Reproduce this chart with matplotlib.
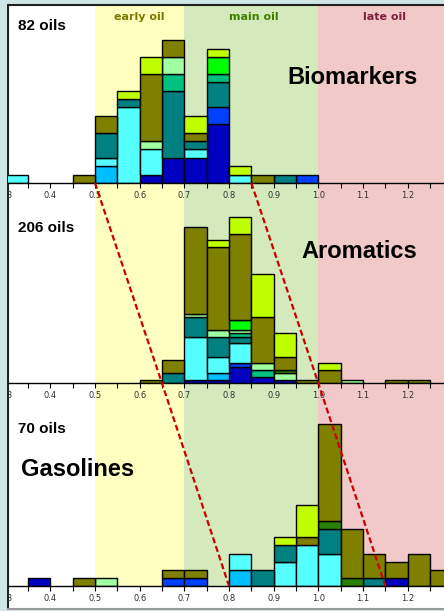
import numpy as np
import matplotlib
matplotlib.use("Agg")
import matplotlib.pyplot as plt
from matplotlib.lines import Line2D
from matplotlib.patches import Rectangle

# ---- histogram data: counts per 0.05 bin of the maturity ratio ----
BIN_LEFT = [0.30, 0.35, 0.40, 0.45, 0.50, 0.55, 0.60, 0.65, 0.70, 0.75, 0.80,
            0.85, 0.90, 0.95, 1.00, 1.05, 1.10, 1.15, 1.20, 1.25, 1.30]
BIN_WIDTH = 0.05

# oil families, stacked bottom -> top
FAMILIES = ["navy", "blue", "sky", "cyan", "teal", "spring",
            "pale", "green", "dkgreen", "olive", "lime"]
FAMILY_COLORS = {
    "navy": "#0000c0", "blue": "#0040ff", "sky": "#00bfff", "cyan": "#55ffff",
    "teal": "#008080", "spring": "#00c080", "pale": "#a0ffa0", "green": "#00ff00",
    "dkgreen": "#2a8000", "olive": "#808000", "lime": "#c0ff00",
}

BIOMARKERS = {
    "navy":   [0, 0, 0, 0, 0, 0, 1, 3, 3, 7, 0, 0, 0, 0, 0, 0, 0, 0, 0, 0, 0],
    "blue":   [0, 0, 0, 0, 0, 0, 0, 0, 0, 2, 0, 0, 0, 1, 0, 0, 0, 0, 0, 0, 0],
    "sky":    [0, 0, 0, 0, 2, 0, 0, 0, 0, 0, 0, 0, 0, 0, 0, 0, 0, 0, 0, 0, 0],
    "cyan":   [1, 0, 0, 0, 1, 9, 3, 0, 1, 0, 1, 0, 0, 0, 0, 0, 0, 0, 0, 0, 0],
    "teal":   [0, 0, 0, 0, 3, 1, 0, 8, 1, 3, 0, 0, 1, 0, 0, 0, 0, 0, 0, 0, 0],
    "spring": [0, 0, 0, 0, 0, 0, 0, 2, 0, 1, 0, 0, 0, 0, 0, 0, 0, 0, 0, 0, 0],
    "pale":   [0, 0, 0, 0, 0, 0, 1, 2, 0, 0, 0, 0, 0, 0, 0, 0, 0, 0, 0, 0, 0],
    "green":  [0, 0, 0, 0, 0, 0, 0, 0, 0, 2, 0, 0, 0, 0, 0, 0, 0, 0, 0, 0, 0],
    "dkgreen": [0] * 21,
    "olive":  [0, 0, 0, 1, 2, 0, 8, 2, 1, 0, 0, 1, 0, 0, 0, 0, 0, 0, 0, 0, 0],
    "lime":   [0, 0, 0, 0, 0, 1, 2, 0, 2, 1, 1, 0, 0, 0, 0, 0, 0, 0, 0, 0, 0],
}

AROMATICS = {
    "navy":   [0, 0, 0, 0, 0, 0, 0, 0, 1, 1, 5, 2, 1, 0, 0, 0, 0, 0, 0, 0, 0],
    "blue":   [0, 0, 0, 0, 0, 0, 0, 0, 0, 0, 1, 0, 0, 0, 0, 0, 0, 0, 0, 0, 0],
    "sky":    [0, 0, 0, 0, 0, 0, 0, 0, 0, 2, 0, 0, 0, 0, 0, 0, 0, 0, 0, 0, 0],
    "cyan":   [0, 0, 0, 0, 0, 0, 0, 0, 13, 5, 6, 0, 0, 0, 0, 0, 0, 0, 0, 0, 0],
    "teal":   [0, 0, 0, 0, 0, 0, 0, 3, 6, 6, 2, 0, 0, 0, 0, 0, 0, 0, 0, 0, 0],
    "spring": [0, 0, 0, 0, 0, 0, 0, 0, 0, 0, 1, 2, 0, 0, 0, 0, 0, 0, 0, 0, 0],
    "pale":   [0, 0, 0, 0, 0, 0, 0, 0, 1, 2, 1, 2, 2, 0, 0, 1, 0, 0, 0, 0, 0],
    "green":  [0, 0, 0, 0, 0, 0, 0, 0, 0, 0, 3, 0, 0, 0, 0, 0, 0, 0, 0, 0, 0],
    "dkgreen": [0, 0, 0, 0, 0, 0, 0, 0, 0, 0, 0, 0, 1, 0, 0, 0, 0, 0, 0, 0, 0],
    "olive":  [0, 0, 0, 0, 0, 0, 1, 4, 26, 25, 26, 14, 4, 1, 4, 0, 0, 1, 1, 0, 0],
    "lime":   [0, 0, 0, 0, 0, 0, 0, 0, 0, 2, 5, 13, 7, 0, 2, 0, 0, 0, 0, 0, 0],
}

GASOLINES = {
    "navy":   [0, 1, 0, 0, 0, 0, 0, 0, 0, 0, 0, 0, 0, 0, 0, 0, 0, 1, 0, 0, 0],
    "blue":   [0, 0, 0, 0, 0, 0, 0, 1, 1, 0, 0, 0, 0, 0, 0, 0, 0, 0, 0, 0, 0],
    "sky":    [0, 0, 0, 0, 0, 0, 0, 0, 0, 0, 2, 0, 0, 0, 0, 0, 0, 0, 0, 0, 0],
    "cyan":   [0, 0, 0, 0, 0, 0, 0, 0, 0, 0, 2, 0, 3, 5, 4, 0, 0, 0, 0, 0, 0],
    "teal":   [0, 0, 0, 0, 0, 0, 0, 0, 0, 0, 0, 2, 2, 0, 3, 0, 1, 0, 0, 0, 0],
    "spring": [0] * 21,
    "pale":   [0, 0, 0, 0, 1, 0, 0, 0, 0, 0, 0, 0, 0, 0, 0, 0, 0, 0, 0, 0, 0],
    "green":  [0] * 21,
    "dkgreen": [0, 0, 0, 0, 0, 0, 0, 0, 0, 0, 0, 0, 0, 0, 1, 1, 0, 0, 0, 0, 0],
    "olive":  [0, 0, 0, 1, 0, 0, 0, 1, 1, 0, 0, 0, 0, 1, 12, 6, 3, 2, 4, 2, 1],
    "lime":   [0, 0, 0, 0, 0, 0, 0, 0, 0, 0, 0, 0, 1, 4, 0, 0, 0, 0, 0, 0, 0],
}

PANEL_NAMES = ["Biomarkers", "Aromatics", "Gasolines"]

# oil window zones
ZONE_EDGES = [0.5, 0.7, 1.0, 1.4]
ZONE_NAMES = ["early oil", "main oil", "late oil"]
ZONE_CENTERS = [0.60, 0.855, 1.147]
ZONE_FILL = ["#ffffc0", "#d4eabd", "#f2c9c9"]
ZONE_TEXT = ["#7a7a00", "#3f7f00", "#7f1f3f"]

# onset of the shift drawn at each panel's baseline
TREND_LEFT = [0.50, 0.65, 0.80]
TREND_RIGHT = [0.85, 1.00, 1.15]

# ---- layout (pixels from top-left) ----
W, H = 444, 611
FIG_BG = "#cfe5e6"
X_PX0, X_PX1 = 8, 444
PX_PER_UNIT = 446.7
X_AT_HALF = 95.0
XLIM = (0.5 + (X_PX0 - X_AT_HALF) / PX_PER_UNIT,
        0.5 + (X_PX1 - X_AT_HALF) / PX_PER_UNIT)
TOP, BOTTOM = 5, 609
BASELINES = [183, 383.3, 586]
PANEL_TOPS = [5, 183, 383.3]
YMAX = [21.2, 60.3, 25.0]
TICK_LEN, TICK_PAD, TICK_SIZE = 3.5, 2, 6


def fx(px):
    return px / W


def fy(py):
    return 1 - py / H


fig = plt.figure(figsize=(W / 100, H / 100), dpi=100, facecolor=FIG_BG)

# background frame with the zone shading
bg = fig.add_axes([fx(X_PX0), fy(BOTTOM), fx(X_PX1) - fx(X_PX0), fy(TOP) - fy(BOTTOM)])
bg.set_xlim(XLIM)
bg.set_ylim(BOTTOM, TOP)
bg.set_facecolor("white")
bg.set_xticks([])
bg.set_yticks([])
bg.spines["right"].set_visible(False)
bg.spines["left"].set_linewidth(1.5)
bg.spines["top"].set_linewidth(1.5)
bg.spines["left"].set_color("#202020")
bg.spines["top"].set_color("#202020")
bg.spines["bottom"].set_color("#9a9a9a")
bg.spines["bottom"].set_linewidth(1.5)

for i in range(3):
    bg.add_patch(Rectangle((ZONE_EDGES[i], TOP), ZONE_EDGES[i + 1] - ZONE_EDGES[i],
                           BASELINES[-1] - TOP, facecolor=ZONE_FILL[i],
                           edgecolor="none", zorder=0))
    bg.text(ZONE_CENTERS[i], 17, ZONE_NAMES[i], ha="center", va="center",
            fontsize=8, fontweight="bold", color=ZONE_TEXT[i], family="DejaVu Sans")

ticks = np.round(np.arange(0.35, 1.2501, 0.05), 2)
tick_labels = [f"{t:.1f}" if round(t * 100) % 10 == 0 else "" for t in ticks]

datasets = [BIOMARKERS, AROMATICS, GASOLINES]
for k, data in enumerate(datasets):
    ax = fig.add_axes([fx(X_PX0), fy(BASELINES[k]), fx(X_PX1) - fx(X_PX0),
                       fy(PANEL_TOPS[k]) - fy(BASELINES[k])])
    ax.set_facecolor("none")
    bottom = np.zeros(len(BIN_LEFT))
    for fam in FAMILIES:
        counts = np.array(data[fam], dtype=float)
        nz = counts > 0
        if nz.any():
            ax.bar(np.array(BIN_LEFT)[nz], counts[nz], width=BIN_WIDTH,
                   bottom=bottom[nz], align="edge", color=FAMILY_COLORS[fam],
                   edgecolor="black", linewidth=1.0)
        bottom += counts
    for side in ("top", "left", "right"):
        ax.spines[side].set_visible(False)
    ax.spines["bottom"].set_linewidth(1.0)
    ax.set_yticks([])
    ax.set_xticks(ticks)
    ax.set_xticklabels(tick_labels)
    ax.tick_params(axis="x", direction="out", length=TICK_LEN, width=0.8,
                   pad=TICK_PAD, labelsize=TICK_SIZE, labelcolor="#303030")
    # set_xticks widens the view, so pin the limits afterwards
    ax.set_xlim(XLIM)
    ax.set_ylim(0, YMAX[k])
    # 0.3 sits just past the left edge; the frame margin hides most of it
    ax.annotate("0.3", xy=(0.30, 0), xycoords=("data", "axes fraction"),
                xytext=(0, -(TICK_LEN + TICK_PAD)), textcoords="offset points",
                ha="center", va="top", fontsize=TICK_SIZE, color="#303030",
                annotation_clip=False)

    total = int(sum(sum(v) for v in data.values()))
    bg.text(0.327, [26, 228, 429][k], f"{total} oils", ha="left", va="center",
            fontsize=11, fontweight="bold", family="Liberation Sans", zorder=3)

# panel titles
bg.text(0.930, 77, PANEL_NAMES[0], ha="left", va="center", fontsize=17,
        fontweight="bold", family="Liberation Sans", zorder=3)
bg.text(0.963, 252, PANEL_NAMES[1], ha="left", va="center", fontsize=17,
        fontweight="bold", family="Liberation Sans", zorder=3)
bg.text(0.334, 470, PANEL_NAMES[2], ha="left", va="center", fontsize=17,
        fontweight="bold", family="Liberation Sans", zorder=3)

# dashed shift lines running across the panels
for xs in (TREND_LEFT, TREND_RIGHT):
    fig.add_artist(Line2D(xs, BASELINES, transform=bg.transData, color="#cc0000",
                          linewidth=1.6, linestyle=(0, (2.7, 1.4)), zorder=5))

# trim the frame margin on the left
fig.add_artist(Rectangle((0, 0), fx(7.2), 1, transform=fig.transFigure,
                         facecolor=FIG_BG, edgecolor="none", zorder=10))

fig.savefig("out.png", dpi=100, facecolor=FIG_BG)
